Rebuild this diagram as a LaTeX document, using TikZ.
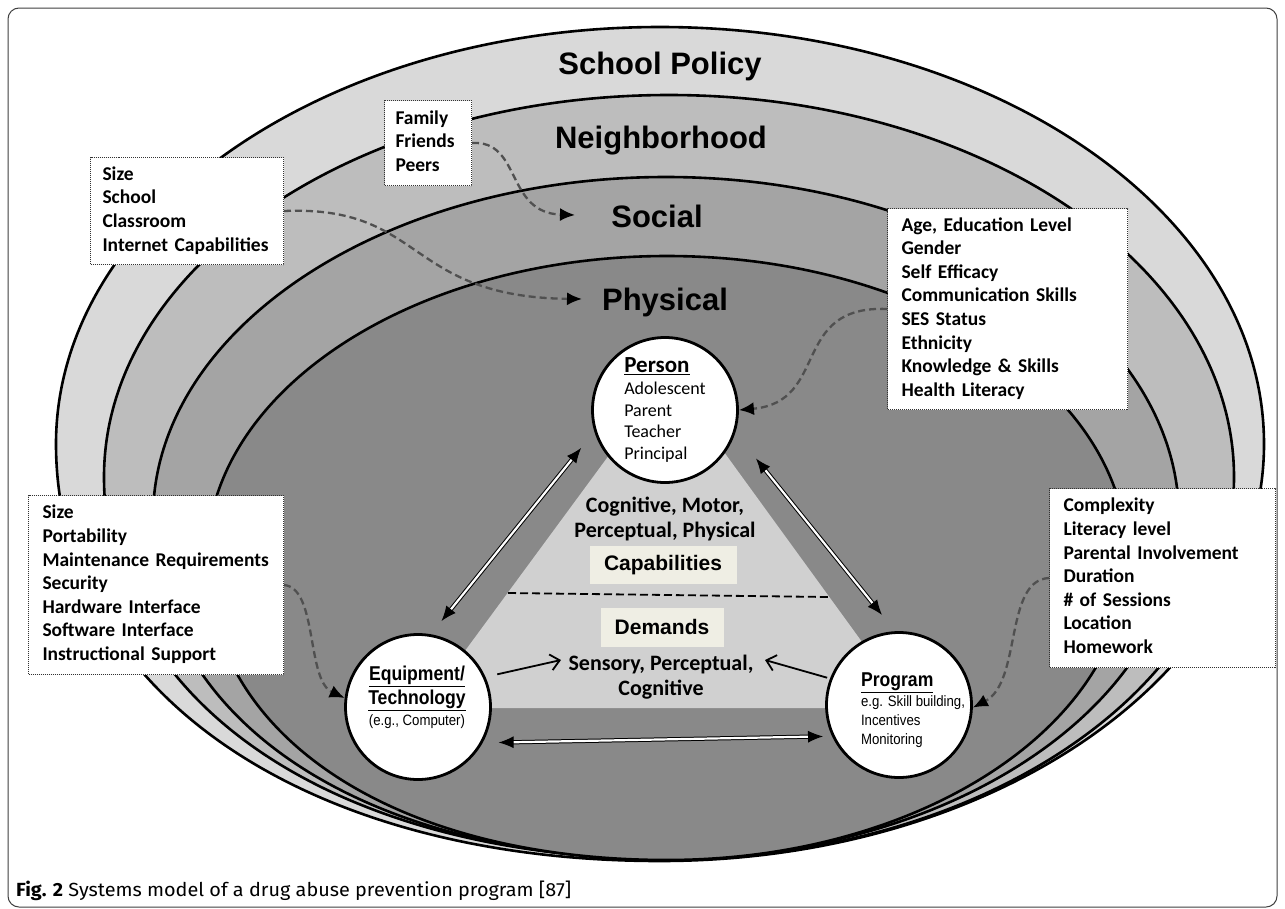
\documentclass[tikz,border=0pt]{standalone}
\usepackage{fontspec}
\usepackage{graphicx}
\setmainfont{Carlito}
\newfontfamily\arialf{Liberation Sans}
\newfontfamily\narrowf{Liberation Sans}[FakeStretch=0.88]
\newfontfamily\capf{Fira Sans}
\usetikzlibrary{arrows.meta}
\definecolor{cPolicy}{HTML}{D9D9D9}
\definecolor{cNeigh}{HTML}{BDBDBD}
\definecolor{cSocial}{HTML}{A4A4A4}
\definecolor{cPhys}{HTML}{898989}
\definecolor{cTri}{HTML}{D0D0D0}
\definecolor{cCream}{HTML}{EFEEE4}
\definecolor{cDash}{HTML}{505050}
\newcommand{\boxlines}[1]{\begin{tabular}{@{}l@{}}#1\end{tabular}}
% ring: cx, cy, rx, ry, fill  (lower-left quarter slightly fuller)
\newcommand{\ringpath}[5]{%
  \filldraw[ring, fill=#5] ({#1+#3},#2) arc[start angle=0, end angle=180, x radius=#3pt, y radius=#4pt]
    .. controls ({#1-#3},{#2+0.59*#4}) and ({#1-0.59*#3},{#2+#4}) .. (#1,{#2+#4})
    .. controls ({#1+0.5523*#3},{#2+#4}) and ({#1+#3},{#2+0.5523*#4}) .. cycle;}
\tikzset{
  ring/.style={draw=black, line width=2.6pt},
  layerlabel/.style={font=\arialf\bfseries\fontsize{31}{31}\selectfont, inner sep=2pt},
  ibox/.style={draw=black!80, densely dotted, line width=1pt, fill=white,
    font=\bfseries\fontsize{19.5}{23.6}\selectfont, align=left, inner xsep=12pt,
    inner ysep=0pt, anchor=north west},
  circ/.style={circle, draw=black, line width=2.8pt, fill=white, minimum size=145pt, inner sep=0pt},
  tag/.style={fill=cCream, font=\arialf\bfseries\fontsize{21}{21}\selectfont, inner sep=0pt},
  midtext/.style={font=\bfseries\fontsize{22}{25}\selectfont, align=center},
  dashconn/.style={draw=cDash, line width=2.3pt, dash pattern=on 7pt off 4pt,
    -{Latex[length=15pt,width=13pt,color=black,fill=black]}},
  dblarrow/.style={draw=black, double=white, double distance=2.2pt, line width=1pt,
    {Latex[length=15pt,width=12pt,color=black,fill=black]}-{Latex[length=15pt,width=12pt,color=black,fill=black]}},
  simplearrow/.style={draw=black, line width=1.8pt, -{Straight Barb[length=9pt,width=16pt]}}
}
\begin{document}
\begin{tikzpicture}[x=1pt,y=-1pt]
\useasboundingbox (0,0) rectangle (1285,908);
\fill[white] (0,0) rectangle (1285,908);
% frame
\draw[black!75, line width=1pt, rounded corners=11pt] (8,8) rectangle (1277,907);
% nested layers
\ringpath{660}{444}{604}{417}{cPolicy}
\ringpath{669}{477}{565}{382}{cNeigh}
\ringpath{666}{518}{513}{341}{cSocial}
\ringpath{667}{558}{460}{302}{cPhys}
% layer labels
\node[layerlabel] (lPolicy) at (660,66) {School Policy};
\node[layerlabel] (lNeigh) at (661,141) {Neighborhood};
\node[layerlabel] (lSocial) at (657,216) {Social};
\node[layerlabel] (lPhys) at (665,302) {Physical};
% capabilities / demands triangle
\fill[cTri] (668,375) -- (423,708) -- (910,708) -- cycle;
\draw[black, line width=1.8pt, dash pattern=on 8pt off 4pt] (508,593) -- (828,597);
\node[tag, minimum width=147pt, minimum height=38pt] (cap) at (663,565) {Capabilities};
\node[tag, minimum width=123pt, minimum height=39pt] (dem) at (662,627) {Demands};
\node[midtext] (cogm) at (665,519) {Cognitive, Motor,\\Perceptual, Physical};
\node[midtext] (sens) at (661,677) {Sensory, Perceptual,\\Cognitive};
% circles
\node[circ, align=left, font=\fontsize{18}{21.7}\selectfont] (person) at (665,410)
  {{\fontsize{23}{23}\selectfont\bfseries\underline{Person}}\\Adolescent\\Parent\\Teacher\\Principal};
\node[circ] (eq) at (418,707) {};
\node[font=\narrowf\bfseries\fontsize{20}{24}\selectfont, align=center] (eqtxt) at (417,697)
  {\underline{Equipment/}\\\underline{Technology}\\[-3pt]{\narrowf\mdseries\fontsize{15}{15}\selectfont (e.g., Computer)}};
\node[circ] (prog) at (899,705) {};
\node[font=\narrowf\fontsize{15}{19}\selectfont, align=left] (progtxt) at (913,710)
  {{\bfseries\fontsize{20}{20}\selectfont\underline{Program}}\\[1pt]e.g. Skill building,\\Incentives\\Monitoring};
% arrows between circles
\draw[dblarrow, shorten <=17pt, shorten >=21pt] (eq.80) -- (person.197);
\draw[dblarrow, shorten <=33pt, shorten >=21pt] (person.-18) -- (prog.93);
\draw[dblarrow, shorten <=16pt, shorten >=9pt] (eq.-29) -- (prog.205);
\coordinate (sensL) at (561,660);
\coordinate (sensR) at (765,660);
\draw[simplearrow, shorten <=12pt] (eq.24) -- (sensL);
\draw[simplearrow, shorten <=3pt] (prog.159) -- (sensR);
% info boxes
\node[ibox, text width=169pt, minimum height=107pt] (bsize) at (90,157)
  {\boxlines{Size\\School\\Classroom\\Internet Capabilities}};
\node[ibox, text width=65pt, minimum height=85pt, inner xsep=11pt] (bfam) at (384,100)
  {\boxlines{Family\\Friends\\Peers}};
\node[ibox, text width=212pt, minimum height=201pt, inner xsep=14pt] (bage) at (887,208)
  {\boxlines{Age, Education Level\\Gender\\Self Efficacy\\Communication Skills\\SES Status\\Ethnicity\\Knowledge \& Skills\\Health Literacy}};
\node[ibox, text width=227pt, minimum height=179pt, inner xsep=14pt] (bequip) at (28,495)
  {\boxlines{Size\\Portability\\Maintenance Requirements\\Security\\Hardware Interface\\Software Interface\\Instructional Support}};
\node[ibox, text width=198pt, minimum height=179pt, inner xsep=14pt] (bprog) at (1049,488)
  {\boxlines{Complexity\\Literacy level\\Parental Involvement\\Duration\\\# of Sessions\\Location\\Homework}};
% dashed connectors
\coordinate (socialTip) at (575,215);
\coordinate (physTip) at (582,299);
\draw[dashconn] (bfam.east) .. controls (522,140) and (505,213) .. (socialTip);
\draw[dashconn] (bsize.east) .. controls (425,205) and (405,297) .. (physTip);
\draw[dashconn] (bage.west) .. controls (790,305) and (830,402) .. (person.east);
\draw[dashconn] (bequip.east) .. controls (318,588) and (306,680) .. (eq.173);
\draw[dashconn] (bprog.west) .. controls (1004,580) and (1022,682) .. (prog.-2);
% caption
\node[anchor=base west, inner sep=0pt] (caption) at (16,896)
  {\resizebox{555pt}{\height}{\capf\fontsize{19}{19}\selectfont\textbf{Fig. 2} Systems model of a drug abuse prevention program [87]}};
\end{tikzpicture}
\end{document}
